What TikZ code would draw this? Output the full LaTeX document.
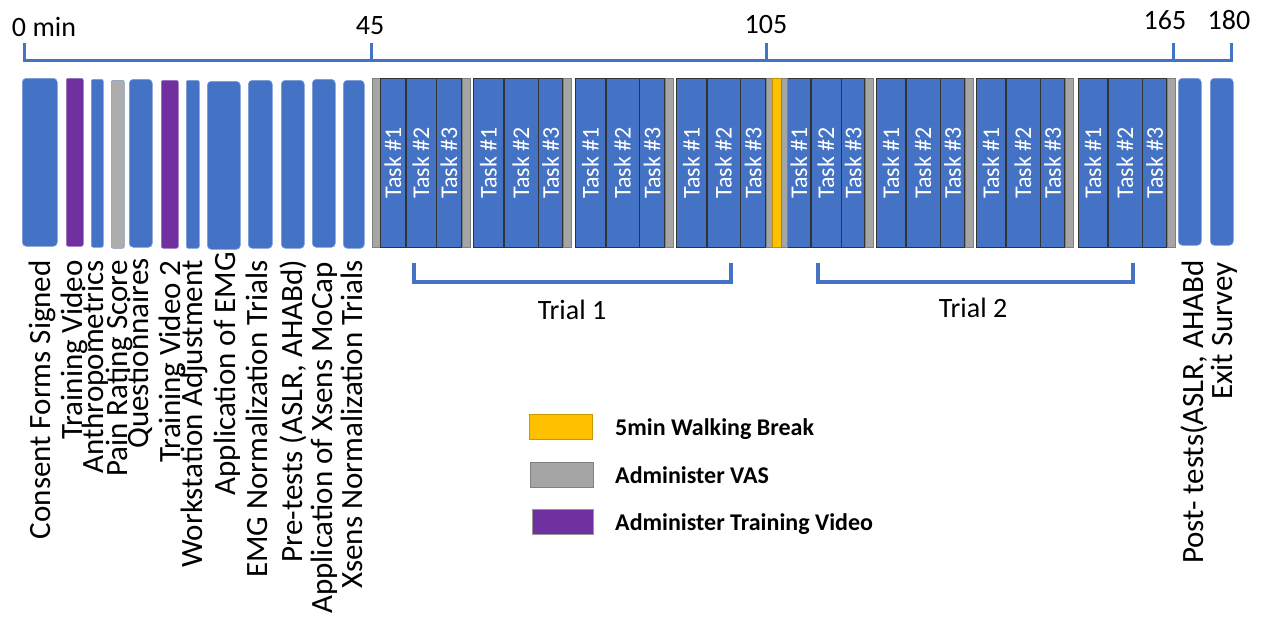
\documentclass[tikz,border=0pt]{standalone}
\usepackage{fontspec}
\setmainfont{Carlito}
\usetikzlibrary{positioning}
\definecolor{barblue}{HTML}{4472C4}
\definecolor{edgeblue}{HTML}{2F528F}
\definecolor{vasgray}{HTML}{A5A5A5}
\definecolor{videopurple}{HTML}{7030A0}
\definecolor{breakyellow}{HTML}{FFC000}

\begin{document}
\begin{tikzpicture}[x=1pt,y=-1pt,
    bar node/.style={rectangle,rounded corners=4pt,fill=barblue,draw=barblue!70!white,line width=0.6pt,
      minimum height=168pt,anchor=north west,inner sep=0pt},
    task node/.style={rectangle,fill=barblue,draw=black!80,line width=0.6pt,minimum height=169pt,
      anchor=north west,inner sep=0pt,text=white,font=\fontsize{24}{24}\selectfont},
    vas node/.style={rectangle,fill=vasgray,draw=black!50,line width=0.6pt,minimum width=8pt,
      minimum height=169pt,anchor=north west,inner sep=0pt},
    step label/.style={rotate=90,anchor=base east,inner sep=0pt,font=\fontsize{31}{31}\selectfont},
    tick label/.style={anchor=base,inner sep=0pt,font=\fontsize{28}{28}\selectfont},
    key node/.style={rectangle,minimum width=63pt,minimum height=25pt,anchor=north west,inner sep=0pt,line width=1pt},
    key label/.style={anchor=base west,inner sep=0pt,font=\fontsize{24}{24}\selectfont\bfseries},
    blue line/.style={draw=barblue,line width=3pt}]
  \useasboundingbox (0,0) rectangle (1261,622);

  % time axis
  \coordinate (t0) at (24,60);
  \coordinate (t45) at (371,60);
  \coordinate (t105) at (766,60);
  \coordinate (t165) at (1173,60);
  \coordinate (t180) at (1231,60);
  \draw[blue line,line cap=rect] (t0) -- (t180);
  \foreach \t in {t0,t45,t105,t165,t180}
    \draw[blue line] (\t) -- ++(0,-17);
  \node[tick label] (l0) at (44,36) {0 min};
  \node[tick label] (l45) at (370,34) {45};
  \node[tick label] (l105) at (766,33) {105};
  \node[tick label] (l165) at (1165,29) {165};
  \node[tick label] (l180) at (1229,29) {180};

  % set-up steps
  \node[bar node,minimum width=35pt] (consent) at (22,78) {};
  \node[bar node,minimum width=17pt,fill=videopurple,draw=videopurple!70!white,rounded corners=2pt] (video) at (66,78) {};
  \node[bar node,minimum width=12pt,rounded corners=2pt] (anthro) at (91,79) {};
  \node[bar node,minimum width=13pt,fill=black!32,draw=edgeblue!60,rounded corners=2pt] (pain) at (111,80) {};
  \node[bar node,minimum width=23pt] (quest) at (129,79) {};
  \node[bar node,minimum width=17pt,fill=videopurple,draw=videopurple!70!white,rounded corners=2pt] (video2) at (161,80) {};
  \node[bar node,minimum width=13pt,rounded corners=2pt] (work) at (186,80) {};
  \node[bar node,minimum width=33pt] (emg) at (207,81) {};
  \node[bar node,minimum width=24pt] (emgnorm) at (248,80) {};
  \node[bar node,minimum width=23pt] (pretest) at (281,80) {};
  \node[bar node,minimum width=23pt] (xsens) at (312,79) {};
  \node[bar node,minimum width=21pt] (xsensnorm) at (343,80) {};

  % task blocks
  \node[vas node] (vas0) at (372,78) {};
  \foreach \s/\a/\b/\c/\n in {380/25pt/30pt/25pt/a, 473/30pt/34pt/24pt/b, 575/30pt/33pt/25pt/c,
      676/30pt/33pt/25pt/d, 787/23pt/30pt/23pt/e, 876/29pt/34pt/24pt/f, 976/29pt/34pt/24pt/g,
      1078/29pt/34pt/24pt/h}{
    \node[task node,minimum width=\a] (\n1) at (\s,78) {\rotatebox{90}{Task \#1}};
    \node[task node,minimum width=\b,right=0pt of \n1] (\n2) {\rotatebox{90}{Task \#2}};
    \node[task node,minimum width=\c,right=0pt of \n2] (\n3) {\rotatebox{90}{Task \#3}};
    \node[vas node,right=0pt of \n3] (vas\n) {};
  }
  \node[rectangle,fill=breakyellow,draw=breakyellow!75!black,line width=0.6pt,minimum width=9pt,
    minimum height=169pt,anchor=north west,inner sep=0pt] (walk) at (772,78) {};
  \node[vas node,minimum width=6pt] (vas1) at (781,78) {};

  % end steps
  \node[bar node,minimum width=23pt,minimum height=167pt] (post) at (1178,78) {};
  \node[bar node,minimum width=23pt,minimum height=167pt] (exit) at (1210,78) {};

  % step labels
  \node[step label] (s1) at (50,260) {Consent Forms Signed};
  \node[step label] (s2) at (82,260) {Training Video};
  \node[step label] (s3) at (103,260) {Anthropometrics};
  \node[step label] (s4) at (127,260) {Pain Rating Score};
  \node[step label] (s5) at (148,258) {Questionnaires};
  \node[step label] (s6) at (180,260) {Training Video 2};
  \node[step label] (s7) at (202,260) {Workstation Adjustment};
  \node[step label] (s8) at (235,252) {Application of EMG};
  \node[step label] (s9) at (267,260) {EMG Normalization Trials};
  \node[step label] (s10) at (302,260) {Pre-tests (ASLR, AHABd)};
  \node[step label] (s11) at (332,262) {Application of Xsens MoCap};
  \node[step label] (s12) at (362,260) {Xsens Normalization Trials};
  \node[step label] (s13) at (1203,260) {Post- tests(ASLR, AHABd};
  \node[step label] (s14) at (1232,262) {Exit Survey};

  % trials
  \coordinate (trial1 start) at (414,263);
  \coordinate (trial1 end) at (731,263);
  \coordinate (trial2 start) at (818,263);
  \coordinate (trial2 end) at (1133,263);
  \draw[blue line,line width=4pt] (trial1 start) -- ++(0,19) -| (trial1 end);
  \draw[blue line,line width=4pt] (trial2 start) -- ++(0,19) -| (trial2 end);
  \node[tick label] (trial1) at (572,319) {Trial 1};
  \node[tick label] (trial2) at (973,317) {Trial 2};

  % legend
  \node[key node,fill=breakyellow,draw=breakyellow!80!black] (key break) at (529,414) {};
  \node[key label] (break text) at (615,435) {5min Walking Break};
  \node[key node,fill=vasgray,draw=black!50] (key vas) at (530,462) {};
  \node[key label] (vas text) at (615,483) {Administer VAS};
  \node[key node,fill=videopurple,draw=black!40,minimum width=61pt] (key video) at (532,509) {};
  \node[key label] (video text) at (615,530) {Administer Training Video};
\end{tikzpicture}
\end{document}
